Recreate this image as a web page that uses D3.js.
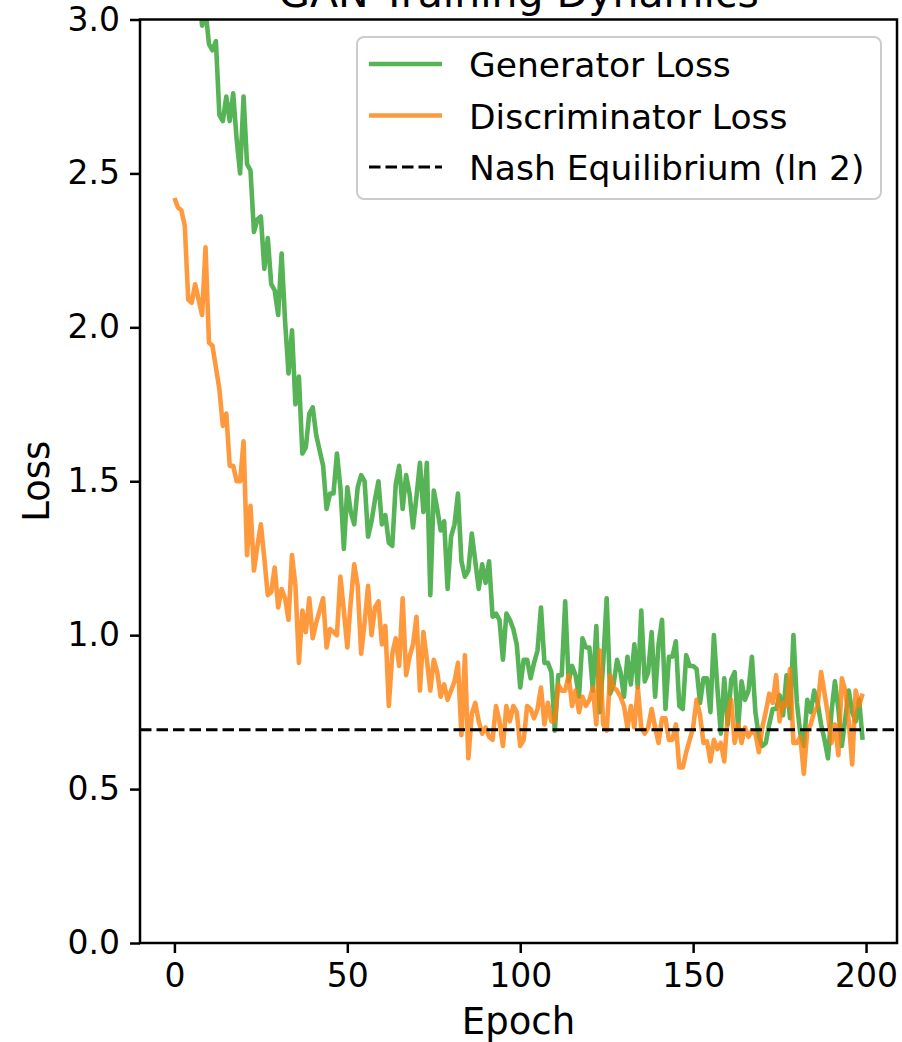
<!DOCTYPE html>
<html>
<head>
<meta charset="utf-8">
<script src="https://cdn.jsdelivr.net/npm/d3@7"></script>
<style>
  body { margin: 0; background: #fff; }
  text { font-family: "DejaVu Sans", sans-serif; fill: #000; }
</style>
</head>
<body>
<div id="chart"></div>
<script>
// epochs 0..199, values
var generatorLoss = [
  4.10, 3.95, 3.82, 3.70, 3.55, 3.42, 3.30, 3.12, 2.98, 3.03,
  2.92, 2.90, 2.93, 2.69, 2.67, 2.75, 2.67, 2.76, 2.61, 2.50,
  2.75, 2.53, 2.51, 2.31, 2.35, 2.36, 2.19, 2.29, 2.14, 2.12,
  2.04, 2.24, 2.02, 1.85, 1.99, 1.75, 1.84, 1.59, 1.61, 1.72,
  1.74, 1.65, 1.60, 1.55, 1.41, 1.46, 1.46, 1.59, 1.48, 1.28,
  1.48, 1.40, 1.36, 1.48, 1.52, 1.50, 1.32, 1.37, 1.44, 1.50,
  1.36, 1.39, 1.30, 1.29, 1.49, 1.55, 1.41, 1.52, 1.46, 1.35,
  1.45, 1.56, 1.40, 1.56, 1.13, 1.47, 1.41, 1.34, 1.37, 1.15,
  1.32, 1.36, 1.46, 1.24, 1.19, 1.21, 1.33, 1.24, 1.15, 1.23,
  1.17, 1.24, 1.06, 1.07, 1.05, 0.92, 1.07, 1.05, 1.02, 0.97,
  0.83, 0.92, 0.92, 0.86, 0.91, 0.95, 1.09, 0.91, 0.91, 0.88,
  0.69, 0.87, 0.87, 1.11, 0.85, 0.90, 0.87, 0.80, 0.99, 0.96,
  0.96, 0.82, 1.03, 0.75, 0.91, 1.12, 0.81, 0.84, 0.92, 0.88,
  0.80, 0.93, 0.84, 0.97, 0.83, 1.08, 0.85, 0.88, 1.01, 0.80,
  0.97, 1.05, 0.76, 0.93, 0.93, 0.98, 0.77, 0.76, 0.935, 0.90,
  0.90, 0.89, 0.78, 0.86, 0.86, 0.75, 1.00, 0.83, 0.68, 0.86,
  0.71, 0.855, 0.88, 0.70, 0.85, 0.79, 0.82, 0.93, 0.75, 0.67,
  0.64, 0.65, 0.71, 0.76, 0.76, 0.805, 0.74, 0.87, 0.73, 1.00,
  0.78, 0.68, 0.64, 0.79, 0.75, 0.82, 0.78, 0.71, 0.66, 0.60,
  0.75, 0.85, 0.76, 0.64, 0.73, 0.82, 0.75, 0.72, 0.79, 0.66
];

var discriminatorLoss = [
  2.42, 2.39, 2.38, 2.33, 2.09, 2.08, 2.14, 2.09, 2.04, 2.26,
  1.95, 1.94, 1.87, 1.80, 1.68, 1.72, 1.55, 1.55, 1.50, 1.50,
  1.63, 1.26, 1.42, 1.21, 1.29, 1.36, 1.25, 1.13, 1.14, 1.22,
  1.09, 1.15, 1.12, 1.05, 1.26, 1.16, 0.91, 1.08, 1.01, 1.12,
  0.99, 1.04, 1.08, 1.12, 0.96, 1.02, 1.01, 1.00, 1.19, 1.08,
  0.96, 1.11, 1.23, 1.16, 0.94, 1.04, 1.16, 1.00, 1.09, 1.11,
  0.97, 1.03, 0.77, 0.94, 0.99, 0.90, 1.12, 0.87, 0.93, 0.97,
  1.06, 0.82, 1.01, 0.92, 0.82, 0.92, 0.88, 0.80, 0.84, 0.79,
  0.82, 0.85, 0.91, 0.675, 0.935, 0.60, 0.745, 0.78, 0.72, 0.68,
  0.70, 0.67, 0.66, 0.77, 0.72, 0.64, 0.77, 0.72, 0.77, 0.75,
  0.64, 0.66, 0.77, 0.76, 0.73, 0.76, 0.83, 0.71, 0.78, 0.72,
  0.72, 0.84, 0.82, 0.82, 0.87, 0.77, 0.82, 0.75, 0.80, 0.77,
  0.79, 0.83, 0.71, 0.95, 0.71, 0.69, 0.87, 0.83, 0.82, 0.80,
  0.77, 0.70, 0.77, 0.70, 0.83, 0.70, 0.68, 0.70, 0.76, 0.70,
  0.65, 0.73, 0.73, 0.66, 0.66, 0.71, 0.57, 0.57, 0.62, 0.66,
  0.70, 0.79, 0.74, 0.65, 0.655, 0.59, 0.66, 0.63, 0.65, 0.59,
  0.74, 0.79, 0.65, 0.71, 0.65, 0.70, 0.67, 0.69, 0.68, 0.62,
  0.70, 0.75, 0.81, 0.78, 0.87, 0.72, 0.78, 0.77, 0.89, 0.65,
  0.65, 0.67, 0.55, 0.69, 0.71, 0.75, 0.77, 0.88, 0.81, 0.74,
  0.65, 0.71, 0.61, 0.86, 0.82, 0.72, 0.58, 0.82, 0.77, 0.81
];

var nashValue = Math.LN2;
var xTicks = [0, 50, 100, 150, 200];
var yTicks = [0, 0.5, 1.0, 1.5, 2.0, 2.5, 3.0];
var seriesNames = ["Generator Loss", "Discriminator Loss", "Nash Equilibrium (ln 2)"];
var seriesColors = ["#2ca02c", "#ff7f0e", "#000000"];

// set the dimensions and margins of the graph
var margin = {top: 19.5, right: 5, bottom: 99, left: 140},
    width = 902 - margin.left - margin.right,
    height = 1042 - margin.top - margin.bottom;

var svg = d3.select("#chart")
  .append("svg")
    .attr("width", 902)
    .attr("height", 1042)
  .append("g")
    .attr("transform", "translate(" + margin.left + "," + margin.top + ")");

var epochs = d3.range(generatorLoss.length);

// matplotlib style 5% margin on x
var pad = (epochs.length - 1) * 0.05;
var x = d3.scaleLinear()
  .domain([-pad, epochs.length - 1 + pad])
  .range([0, width]);

var y = d3.scaleLinear()
  .domain([0, 3])
  .range([height, 0]);

svg.append("clipPath")
    .attr("id", "plot-clip")
  .append("rect")
    .attr("width", width)
    .attr("height", height);

var line = d3.line()
  .x(function (d, i) { return x(i); })
  .y(function (d) { return y(d); });

var plot = svg.append("g").attr("clip-path", "url(#plot-clip)");

[generatorLoss, discriminatorLoss].forEach(function (values, k) {
  plot.append("path")
    .datum(values)
    .attr("fill", "none")
    .attr("stroke", seriesColors[k])
    .attr("stroke-opacity", 0.8)
    .attr("stroke-width", 4.6)
    .attr("stroke-linejoin", "round")
    .attr("d", line);
});

// ln 2 line across the whole axes
plot.append("line")
  .attr("x1", 0)
  .attr("x2", width)
  .attr("y1", y(nashValue))
  .attr("y2", y(nashValue))
  .attr("stroke", "#000")
  .attr("stroke-width", 3)
  .attr("stroke-dasharray", "11.5 5");

// axes
var xAxis = svg.append("g")
  .attr("transform", "translate(0," + height + ")")
  .call(d3.axisBottom(x).tickValues(xTicks).tickSize(10).tickPadding(11).tickSizeOuter(0));

var yAxis = svg.append("g")
  .call(d3.axisLeft(y).tickValues(yTicks).tickFormat(d3.format(".1f")).tickSize(10).tickPadding(10).tickSizeOuter(0));

[xAxis, yAxis].forEach(function (ax) {
  ax.select(".domain").remove();
  ax.selectAll("line").attr("stroke", "#000").attr("stroke-width", 2.5);
  ax.selectAll("text")
    .style("font-family", "DejaVu Sans")
    .style("font-size", "33px")
    .attr("fill", "#000");
});

svg.append("rect")
  .attr("width", width)
  .attr("height", height)
  .attr("fill", "none")
  .attr("stroke", "#000")
  .attr("stroke-width", 2.5);

// labels
svg.append("text")
  .attr("x", width / 2)
  .attr("y", height + 91)
  .attr("text-anchor", "middle")
  .style("font-size", "37px")
  .text("Epoch");

svg.append("text")
  .attr("transform", "translate(" + (49 - margin.left) + "," + (height / 2) + ") rotate(-90)")
  .attr("text-anchor", "middle")
  .style("font-size", "37px")
  .text("Loss");

// title sits partly above the page edge, as in the original
svg.append("text")
  .attr("x", width / 2)
  .attr("y", 7 - margin.top)
  .attr("text-anchor", "middle")
  .style("font-size", "41px")
  .text("GAN Training Dynamics");

// legend
var legend = svg.append("g")
  .attr("transform", "translate(" + (357 - margin.left) + "," + (37 - margin.top) + ")");

legend.append("rect")
  .attr("width", 524)
  .attr("height", 162)
  .attr("rx", 7)
  .attr("fill", "#fff")
  .attr("fill-opacity", 0.8)
  .attr("stroke", "#cccccc")
  .attr("stroke-width", 2);

var item = legend.selectAll(".legend-item")
  .data(seriesNames)
  .enter().append("g")
    .attr("class", "legend-item")
    .attr("transform", function (d, i) { return "translate(0," + (27 + i * 51.5) + ")"; });

item.append("line")
  .attr("x1", 12)
  .attr("x2", 85)
  .attr("stroke", function (d, i) { return seriesColors[i]; })
  .attr("stroke-opacity", function (d, i) { return i < 2 ? 0.8 : 1; })
  .attr("stroke-width", function (d, i) { return i < 2 ? 4.6 : 3; })
  .attr("stroke-dasharray", function (d, i) { return i < 2 ? null : "11.5 5"; });

item.append("text")
  .attr("x", 112)
  .attr("y", 13)
  .style("font-size", "34.5px")
  .text(function (d) { return d; });
</script>
</body>
</html>
